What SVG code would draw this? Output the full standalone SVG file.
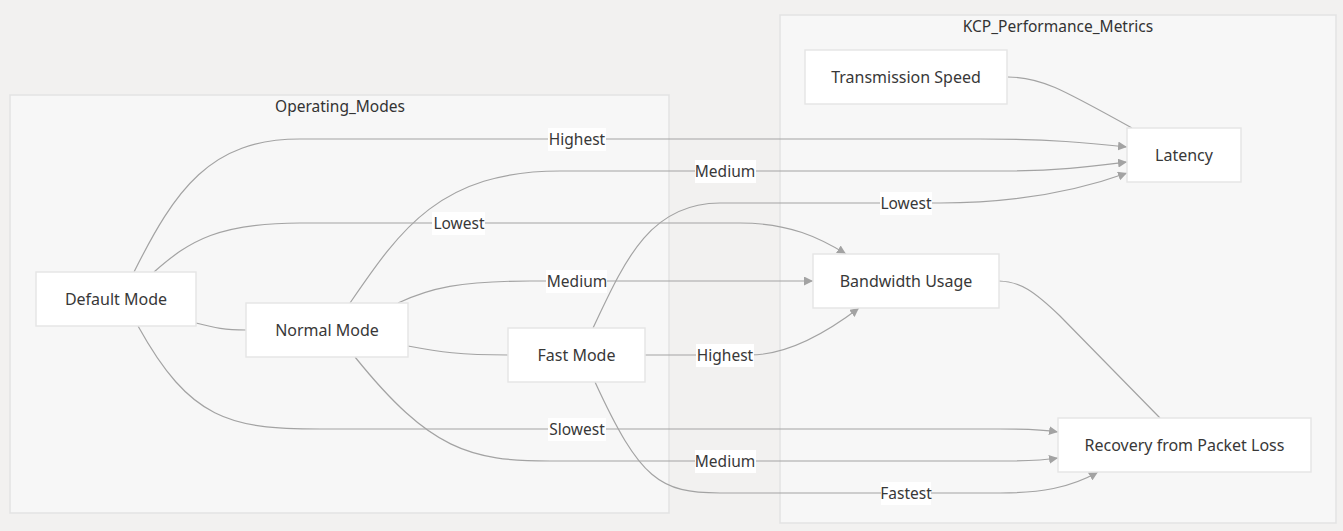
<svg xmlns="http://www.w3.org/2000/svg" width="1343" height="531" viewBox="0 0 1343 531">
<defs>
<style>
.bg{fill:#f2f1f0}
.cluster rect{fill:#f7f7f7;stroke:#e3e3e3;stroke-width:1.5}
.ctitle{font-family:"Noto Sans","Open Sans",sans-serif;font-size:15.5px;fill:#333;text-anchor:middle}
.node rect{fill:#ffffff;stroke:#e6e6e6;stroke-width:1.5}
.node text{font-family:"Noto Sans","Open Sans",sans-serif;font-size:16px;fill:#383838;text-anchor:middle;dominant-baseline:central}
.edge{fill:none;stroke:#a3a3a3;stroke-width:1.2}
.elabel rect{fill:#ffffff}
.elabel text{font-family:"Noto Sans","Open Sans",sans-serif;font-size:15.5px;fill:#383838;text-anchor:middle;dominant-baseline:central}
</style>
<marker id="arr" viewBox="0 0 10 10" refX="10" refY="5" markerWidth="9" markerHeight="9" markerUnits="userSpaceOnUse" orient="auto">
<path d="M0,0 L10,5 L0,10 z" fill="#a3a3a3"/>
</marker>
</defs>
<rect class="bg" x="0" y="0" width="1343" height="531"/>
<g id="cluster-operating-modes" class="cluster">
<rect x="10" y="95" width="659" height="418"/>
<text class="ctitle" x="340" y="112">Operating_Modes</text>
</g>
<g id="cluster-kcp-performance-metrics" class="cluster">
<rect x="780" y="15" width="556" height="508"/>
<text class="ctitle" x="1058" y="32">KCP_Performance_Metrics</text>
</g>
<g id="connectors">
<path class="edge" d="M134,272 C175,190 210,139 300,139 L980,139 C1050,139 1090,143 1127,147" marker-end="url(#arr)"/>
<path class="edge" d="M350,303 C400,230 440,171 560,171 L1000,171 C1060,171 1095,166 1127,162" marker-end="url(#arr)"/>
<path class="edge" d="M593,328 C625,260 650,203 720,203 L940,203 C1020,203 1080,190 1127,173" marker-end="url(#arr)"/>
<path class="edge" d="M154,272 C190,240 220,223 300,223 L740,223 C790,223 820,238 846,254" marker-end="url(#arr)"/>
<path class="edge" d="M398,303 C430,288 460,281 530,281 L813,281" marker-end="url(#arr)"/>
<path class="edge" d="M645,355 L750,355 C790,355 830,330 859,308" marker-end="url(#arr)"/>
<path class="edge" d="M196,323 C215,328 225,330 246,330"/>
<path class="edge" d="M408,346 C440,352 460,355 508,355"/>
<path class="edge" d="M1008,77 C1040,77 1060,88 1132,128"/>
<path class="edge" d="M999,281 C1020,281 1035,292 1060,316 L1160,418"/>
<path class="edge" d="M138,326 C190,420 230,429 320,429 L1000,429 C1030,429 1045,430 1058,432" marker-end="url(#arr)"/>
<path class="edge" d="M355,357 C430,450 470,461 550,461 L1000,461 C1030,461 1045,460 1058,458" marker-end="url(#arr)"/>
<path class="edge" d="M595,382 C640,480 660,493 720,493 L1000,493 C1040,493 1070,488 1098,472" marker-end="url(#arr)"/>
<g class="elabel"><rect x="548" y="128" width="58" height="23"/><text x="577" y="138.5">Highest</text></g>
<g class="elabel"><rect x="695" y="160" width="61" height="23"/><text x="725" y="170.5">Medium</text></g>
<g class="elabel"><rect x="880" y="192" width="52" height="23"/><text x="906" y="202.5">Lowest</text></g>
<g class="elabel"><rect x="432" y="212" width="53" height="23"/><text x="459" y="222.5">Lowest</text></g>
<g class="elabel"><rect x="546" y="270" width="61" height="23"/><text x="577" y="280.5">Medium</text></g>
<g class="elabel"><rect x="696" y="344" width="58" height="23"/><text x="725" y="354.5">Highest</text></g>
<g class="elabel"><rect x="548" y="418" width="58" height="23"/><text x="577" y="428.5">Slowest</text></g>
<g class="elabel"><rect x="695" y="450" width="61" height="23"/><text x="725" y="460.5">Medium</text></g>
<g class="elabel"><rect x="881" y="482" width="50" height="23"/><text x="906" y="492.5">Fastest</text></g>
</g>
<g id="node-transmission-speed" class="node"><rect x="805" y="50" width="202" height="54"/><text x="906" y="77">Transmission Speed</text></g>
<g id="node-latency" class="node"><rect x="1127" y="128" width="114" height="54"/><text x="1184" y="155">Latency</text></g>
<g id="node-bandwidth-usage" class="node"><rect x="813" y="254" width="186" height="54"/><text x="906" y="281">Bandwidth Usage</text></g>
<g id="node-recovery" class="node"><rect x="1058" y="418" width="253" height="54"/><text x="1184.5" y="445">Recovery from Packet Loss</text></g>
<g id="node-default-mode" class="node"><rect x="36" y="272" width="160" height="54"/><text x="116" y="299">Default Mode</text></g>
<g id="node-normal-mode" class="node"><rect x="246" y="303" width="162" height="54"/><text x="327" y="330">Normal Mode</text></g>
<g id="node-fast-mode" class="node"><rect x="508" y="328" width="137" height="54"/><text x="576.5" y="355">Fast Mode</text></g>
</svg>
